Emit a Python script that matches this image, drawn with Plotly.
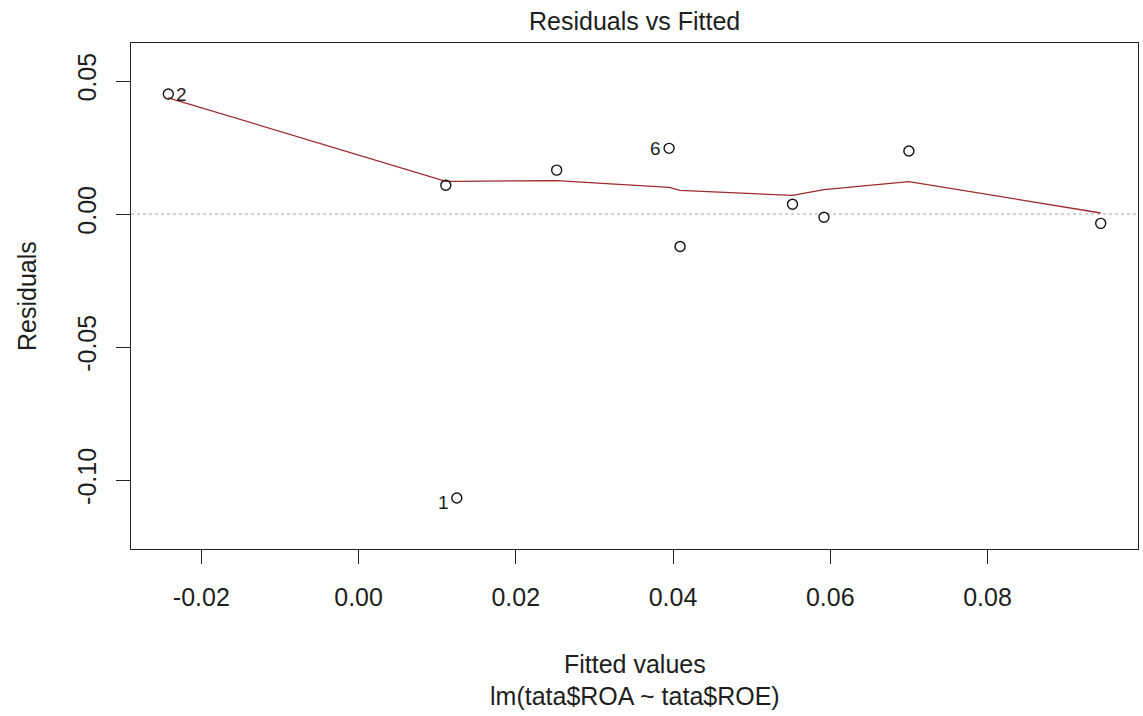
import plotly.graph_objects as go

obs_id = ["1", "2", "3", "4", "5", "6", "7", "8", "9", "10"]
fitted = [0.0125, -0.0242, 0.0111, 0.0252, 0.0409, 0.0395, 0.0552, 0.0592, 0.0700, 0.0944]
resid = [-0.1067, 0.0451, 0.0108, 0.0165, -0.0122, 0.0247, 0.0037, -0.0012, 0.0237, -0.0035]

# Lowess smooth (sorted by fitted value)
smooth_x = [-0.0242, 0.0111, 0.0125, 0.0252, 0.0395, 0.0409, 0.0552, 0.0592, 0.0700, 0.0944]
smooth_y = [0.0437, 0.0123, 0.0123, 0.0126, 0.0100, 0.0089, 0.0070, 0.0092, 0.0122, 0.0004]

# Labelled (most extreme) observations and on which side the label sits
label_ids = ["2", "6", "1"]
label_side = ["right", "left", "left"]

x_ticks = [-0.02, 0.00, 0.02, 0.04, 0.06, 0.08]
x_ticktext = ["-0.02", "0.00", "0.02", "0.04", "0.06", "0.08"]
y_ticks = [-0.10, -0.05, 0.00, 0.05]
y_ticktext = ["-0.10", "-0.05", "0.00", "0.05"]

FONT = "Liberation Sans, Arial, sans-serif"
TXT = "#1e1e1e"

# R-like axis ranges
xr = max(fitted) - min(fitted)
x_range = [min(fitted) - 0.04 * xr, max(fitted) + 0.04 * xr]
ylo, yhi = min(resid), max(resid)
yr = yhi - ylo
ylo, yhi = ylo - 0.08 * yr, yhi + 0.08 * yr
yr2 = yhi - ylo
y_range = [ylo - 0.04 * yr2, yhi + 0.04 * yr2]

fig = go.Figure()

fig.add_trace(go.Scatter(
    x=smooth_x, y=smooth_y, mode="lines",
    line=dict(color="#9e2a2f", width=1.3),
    hoverinfo="skip", showlegend=False))

fig.add_trace(go.Scatter(
    x=fitted, y=resid, mode="markers",
    marker=dict(symbol="circle-open", size=10, color="#111111",
                line=dict(width=1.4, color="#111111")),
    showlegend=False))

fig.add_shape(type="line", xref="paper", yref="y", x0=0, x1=1, y0=0, y1=0,
              line=dict(color="#a9a9a9", width=1, dash="dot"), layer="below")

annotations = [
    dict(text="Residuals vs Fitted", xref="paper", yref="paper",
         x=0.5, y=1, yshift=22, showarrow=False, yanchor="middle",
         font=dict(family=FONT, size=25, color=TXT)),
    dict(text="Fitted values", xref="paper", yref="paper",
         x=0.5, y=0, yshift=-115, showarrow=False, yanchor="middle",
         font=dict(family=FONT, size=25, color=TXT)),
    dict(text="lm(tata$ROA ~ tata$ROE)", xref="paper", yref="paper",
         x=0.5, y=0, yshift=-147, showarrow=False, yanchor="middle",
         font=dict(family=FONT, size=25, color=TXT)),
    dict(text="Residuals", xref="paper", yref="paper",
         x=0, xshift=-104, y=0.5, showarrow=False, textangle=-90,
         xanchor="center", yanchor="middle",
         font=dict(family=FONT, size=25, color=TXT)),
]
for lid, side in zip(label_ids, label_side):
    i = obs_id.index(lid)
    annotations.append(dict(
        text=lid, x=fitted[i], y=resid[i], xref="x", yref="y", showarrow=False,
        xanchor="left" if side == "right" else "right",
        xshift=6 if side == "right" else -6,
        yshift=-5 if resid[i] < 0 else 0, yanchor="middle",
        font=dict(family=FONT, size=19, color=TXT)))

axis_common = dict(
    showline=True, mirror=True, linecolor="#222222", linewidth=1.3,
    ticks="outside", ticklen=14, tickwidth=1.2, tickcolor="#222222",
    showgrid=False, zeroline=False,
    tickfont=dict(family=FONT, size=25, color=TXT),
)

fig.update_layout(
    width=1143, height=716,
    margin=dict(l=131, r=5, t=43, b=167),
    paper_bgcolor="white", plot_bgcolor="white",
    xaxis=dict(range=x_range, tickvals=x_ticks, ticktext=x_ticktext,
               ticklabelstandoff=12, **axis_common),
    yaxis=dict(range=y_range, tickvals=y_ticks, ticktext=y_ticktext,
               tickangle=-90, ticklabelstandoff=10, **axis_common),
    annotations=annotations,
)

fig.write_html("out.html")
